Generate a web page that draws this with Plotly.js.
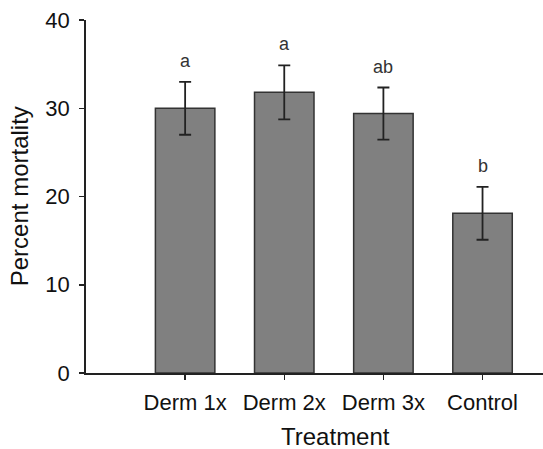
<!DOCTYPE html>
<html>
<head>
<meta charset="utf-8">
<script src="https://cdn.plot.ly/plotly-3.0.1.min.js"></script>
<style>html,body{margin:0;padding:0;background:#fff;}#chart{width:543px;height:449px;}</style>
</head>
<body>
<div id="chart"></div>
<script>
const categories = ["Derm 1x", "Derm 2x", "Derm 3x", "Control"];
const mortality = [30.0, 31.8, 29.4, 18.1];
const stdError = [3.0, 3.05, 2.95, 3.0];
const groupLetters = ["a", "a", "ab", "b"];
const xTitle = "Treatment";
const yTitle = "Percent mortality";

const FONT = "Liberation Sans, Arial, sans-serif";

const trace = {
  type: "bar",
  x: categories,
  y: mortality,
  width: 0.6,
  marker: {color: "#808080", line: {color: "#333333", width: 1.5}},
  error_y: {type: "data", array: stdError, visible: true, color: "#222222", thickness: 1.8, width: 6}
};

const annotations = categories.map((c, i) => ({
  x: c, y: mortality[i] + stdError[i], xref: "x", yref: "y",
  text: groupLetters[i], showarrow: false, yanchor: "middle", yshift: 21,
  font: {family: FONT, size: 18, color: "#333333"}
}));
annotations.push({
  xref: "paper", yref: "paper", x: 0.545, y: -0.180, xanchor: "center", yanchor: "middle",
  borderpad: 0, text: xTitle, showarrow: false, font: {family: FONT, size: 24, color: "#111111"}
});
annotations.push({
  xref: "paper", yref: "paper", x: -0.145, y: 0.5, xanchor: "center", yanchor: "middle",
  textangle: -90, text: yTitle, showarrow: false, font: {family: FONT, size: 24, color: "#111111"}
});

const layout = {
  width: 543, height: 449,
  margin: {l: 86, r: 0, t: 19.5, b: 76, pad: 0},
  paper_bgcolor: "#ffffff", plot_bgcolor: "#ffffff",
  showlegend: false,
  font: {family: FONT, color: "#111111"},
  xaxis: {
    type: "category",
    range: [-1.0, 3.61],
    showgrid: false, zeroline: false,
    showline: true, linecolor: "#222222", linewidth: 1.8,
    ticks: "outside", ticklen: 5, tickwidth: 1.5, tickcolor: "#222222",
    ticklabelstandoff: 4,
    tickfont: {family: FONT, size: 22, color: "#111111"}
  },
  yaxis: {
    range: [0, 40],
    tickvals: [0, 10, 20, 30, 40],
    showgrid: false, zeroline: false,
    showline: true, linecolor: "#222222", linewidth: 1.8,
    ticks: "outside", ticklen: 5, tickwidth: 1.5, tickcolor: "#222222",
    ticklabelstandoff: 5,
    tickfont: {family: FONT, size: 22, color: "#111111"}
  },
  annotations: annotations
};

Plotly.newPlot("chart", [trace], layout, {displayModeBar: false, staticPlot: true});
</script>
</body>
</html>
